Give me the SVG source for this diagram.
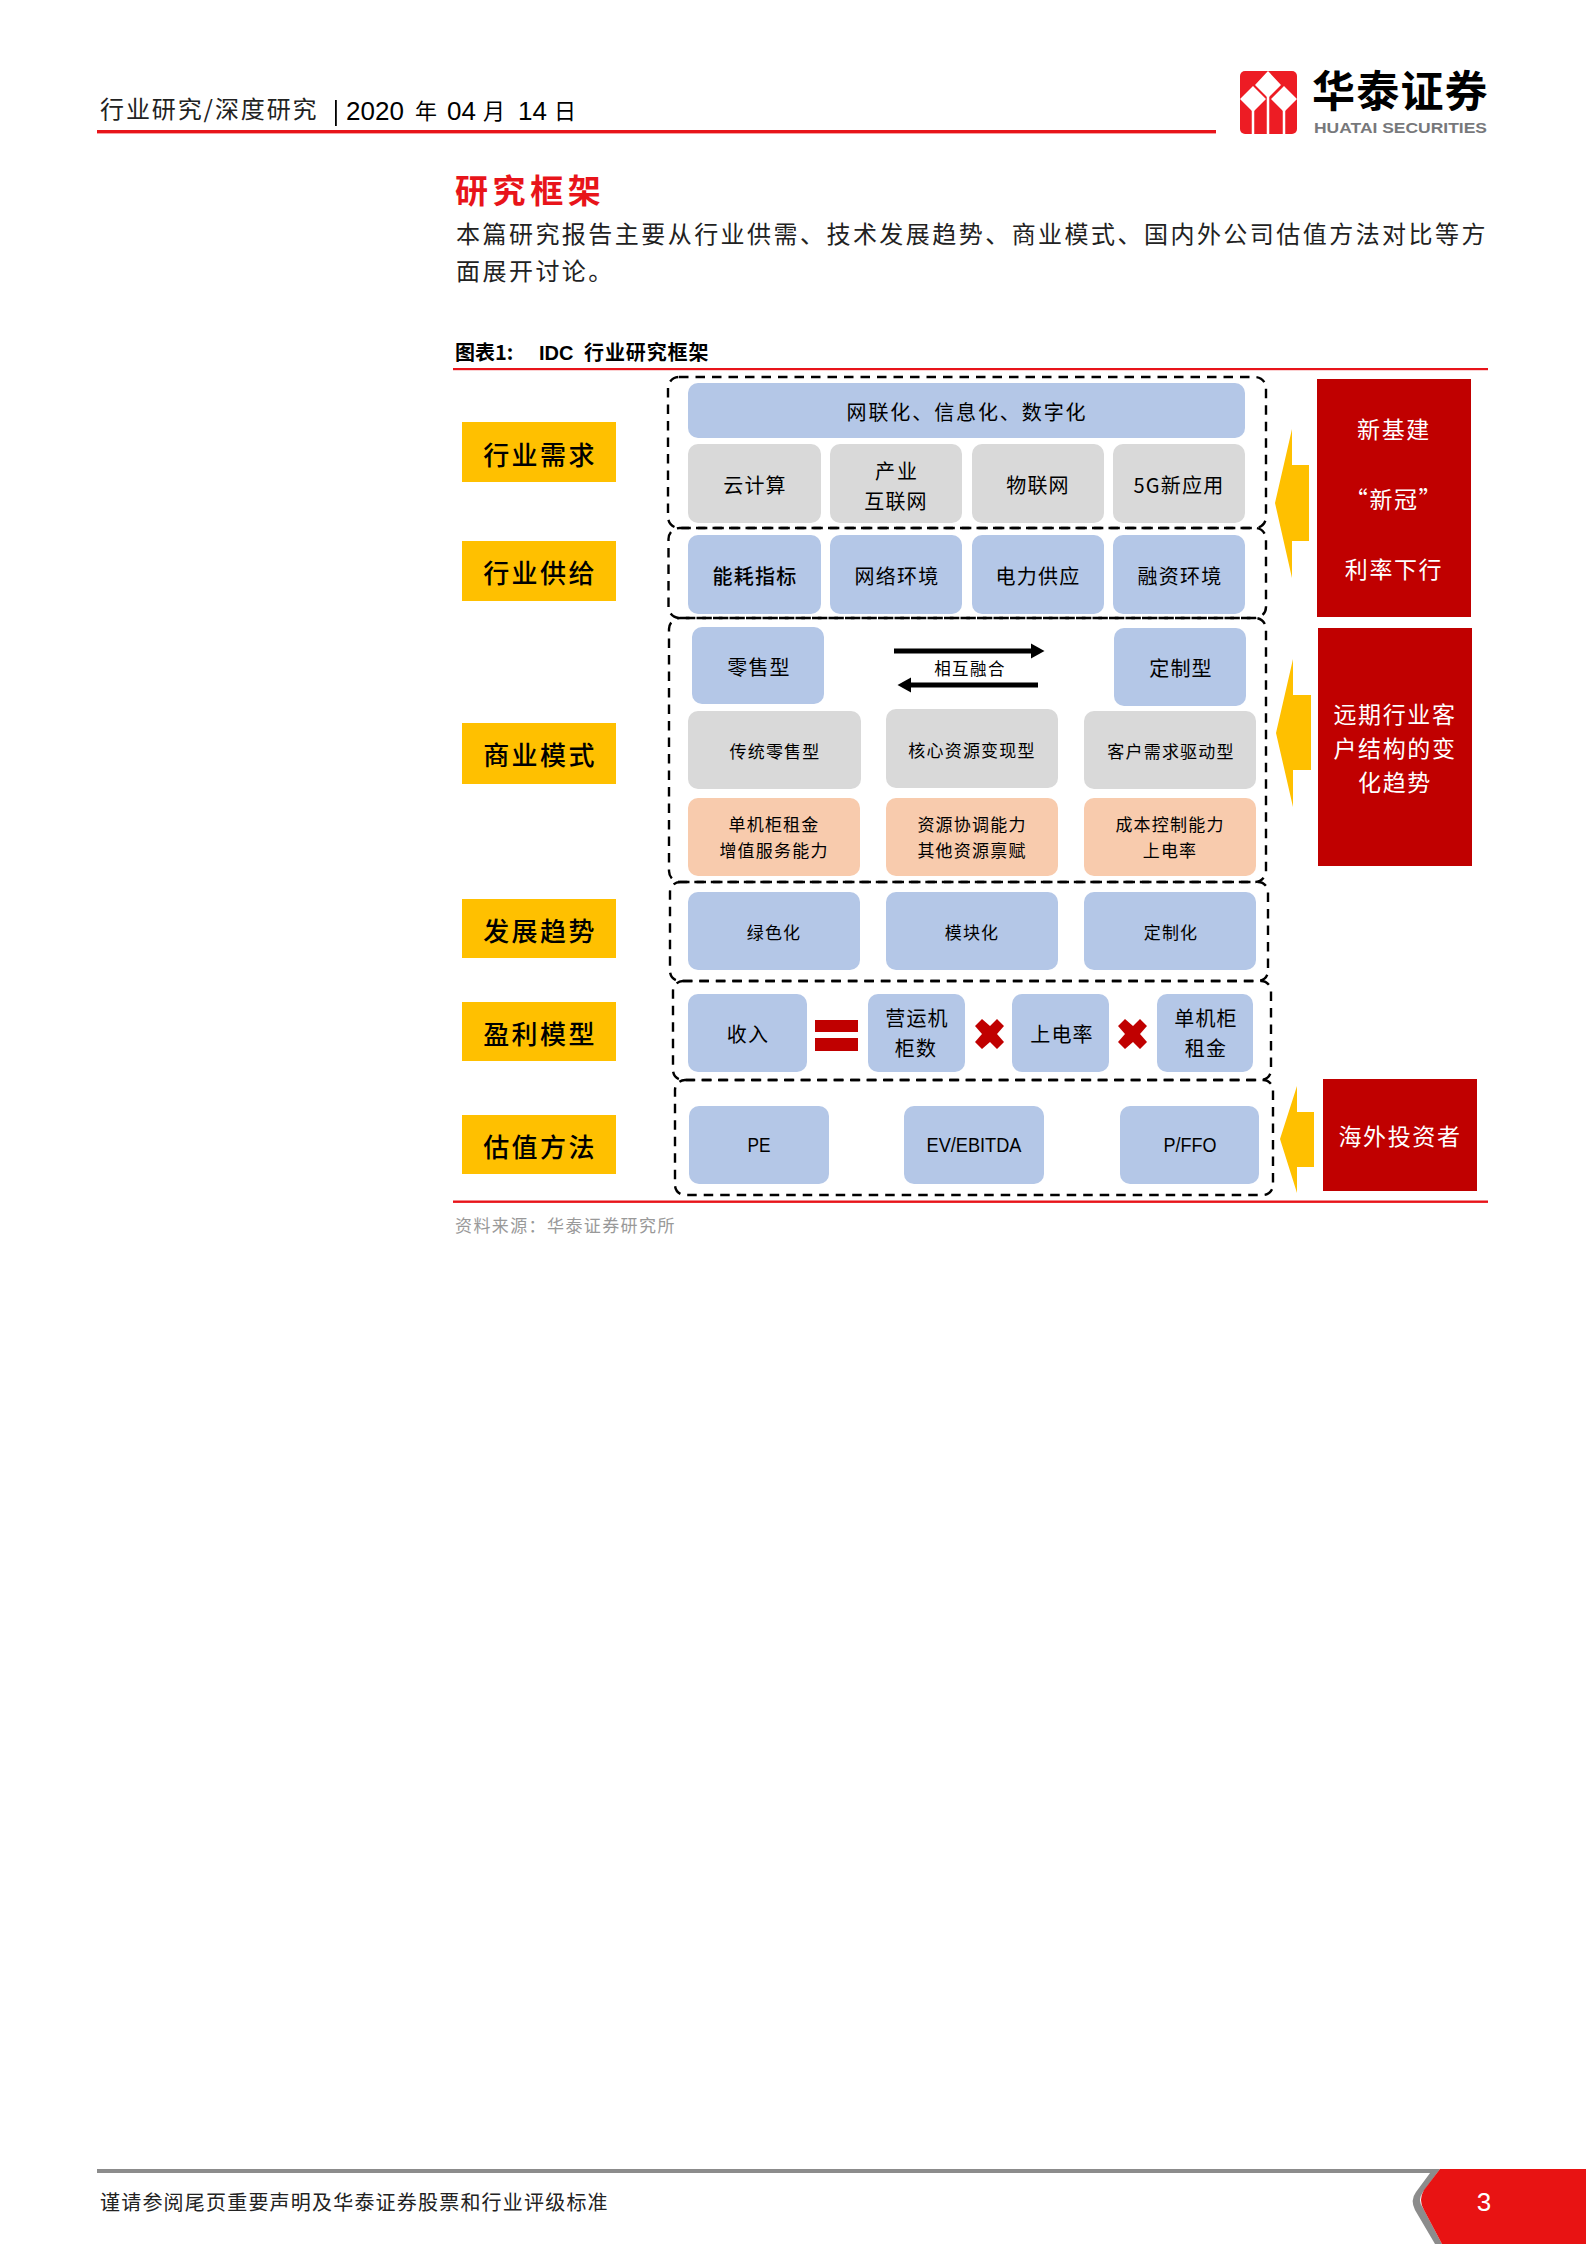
<svg xmlns="http://www.w3.org/2000/svg" width="1586" height="2244" viewBox="0 0 1586 2244">
<style>
text{font-family:"Noto Sans CJK SC","Liberation Sans",sans-serif;text-anchor:middle}
.l{text-anchor:start}
.en{font-family:"Liberation Sans",sans-serif}
.y{fill:#FFC000}.b{fill:#B4C7E7}.g{fill:#D9D9D9}.o{fill:#F8CBAD}.r{fill:#C00000}
.dash{fill:none;stroke:#000;stroke-width:2.4;stroke-dasharray:9.500 7}
.yt{font-size:26px;letter-spacing:2.4px;font-weight:500}
.m{font-size:20px;letter-spacing:1.2px}
.s{font-size:17px;letter-spacing:1.2px}
.w{font-size:23px;letter-spacing:1.6px;fill:#fff}
.arr{fill:#FFC000}
.ar{stroke:#000;stroke-width:5;fill:none}
</style>
<rect width="1586" height="2244" fill="#fff"/>
<g id="page-header">
<text class="l" x="100" y="118" font-size="24" letter-spacing="1.9" fill="#222">行业研究/深度研究</text>
<rect x="335" y="100" width="1.8" height="26" fill="#000"/>
<text class="l en" x="346" y="120" font-size="26">2020</text>
<text class="l" x="415" y="119" font-size="22">年</text>
<text class="l en" x="447" y="120" font-size="26">04</text>
<text class="l" x="483" y="119" font-size="22">月</text>
<text class="l en" x="518" y="120" font-size="26">14</text>
<text class="l" x="554" y="119" font-size="22">日</text>
<rect x="97" y="130" width="1119" height="3.4" fill="#E8141A"/>
</g>
<g id="logo">
<rect x="1240" y="71" width="57" height="63" rx="5" fill="#ED1C24"/>
<path d="M1268 71L1281 85L1268 98L1255 85Z M1253 86L1266 99L1253 112L1240 99Z M1284 86L1297 99L1284 112L1271 99Z" fill="#fff"/>
<path d="M1253 110V134M1268 96V134M1284 110V134" stroke="#fff" stroke-width="2.500" fill="none"/>
<text class="l" x="1312" y="107" font-size="43" font-weight="700" letter-spacing="1.2">华泰证券</text>
<text class="l en" x="1314" y="133" font-size="15.5" font-weight="700" fill="#77787B" textLength="173" lengthAdjust="spacingAndGlyphs">HUATAI SECURITIES</text>
</g>
<g id="heading">
<text class="l" x="455" y="203" font-size="33" font-weight="700" letter-spacing="4.6" fill="#E8141A">研究框架</text>
<text class="l" x="456" y="243" font-size="24" letter-spacing="2.46" fill="#222">本篇研究报告主要从行业供需、技术发展趋势、商业模式、国内外公司估值方法对比等方</text>
<text class="l" x="456" y="280" font-size="24" letter-spacing="2.46" fill="#222">面展开讨论。</text>
<text class="l" x="455" y="360" font-size="20" font-weight="700">图表1:</text>
<text class="l en" x="539" y="360" font-size="20" font-weight="700">IDC</text>
<text class="l" x="584" y="360" font-size="20" font-weight="700" letter-spacing=".9">行业研究框架</text>
<rect x="453" y="368" width="1035" height="2.2" fill="#E8141A"/>
</g>
<g id="connectors">
<path class="ar" d="M894 651H1033"/><path d="M1031 643.500L1044.500 651L1031 658.500Z"/>
<path class="ar" d="M1038 685H909"/><path d="M911 677.500L897.500 685L911 692.500Z"/>
<path class="arr" d="M1275 503L1292 429V465H1309V541H1292V578Z"/>
<path class="arr" d="M1276 733L1293 659V695H1311V770H1293V807Z"/>
<path class="arr" d="M1280 1139L1297 1086V1112H1314V1167H1297V1193Z"/>
</g>
<g id="frames">
<rect class="dash" x="668" y="377" width="598" height="151" rx="11"/>
<rect class="dash" x="668.500" y="528" width="597.500" height="90" rx="11"/>
<rect class="dash" x="669" y="618" width="597" height="264" rx="11"/>
<rect class="dash" x="670" y="882" width="598" height="99" rx="10"/>
<rect class="dash" x="673" y="981" width="598" height="99" rx="10"/>
<rect class="dash" x="675" y="1080" width="598" height="115" rx="10"/>
</g>
<g id="demand">
<rect class="y" x="462" y="422" width="154" height="60"/><text class="yt" x="540" y="465">行业需求</text>
</g>
<g id="supply">
<rect class="y" x="462" y="541" width="154" height="60"/><text class="yt" x="540" y="583">行业供给</text>
</g>
<g id="model">
<rect class="y" x="462" y="723" width="154" height="61"/><text class="yt" x="540" y="765">商业模式</text>
</g>
<g id="trend">
<rect class="y" x="462" y="899" width="154" height="59"/><text class="yt" x="540" y="941">发展趋势</text>
</g>
<g id="profit">
<rect class="y" x="462" y="1002" width="154" height="59"/><text class="yt" x="540" y="1044">盈利模型</text>
</g>
<g id="valuation">
<rect class="y" x="462" y="1115" width="154" height="59"/><text class="yt" x="540" y="1157">估值方法</text>
</g>
<g id="n-digital"><rect class="b" x="688" y="383" width="557" height="55" rx="10"/><text class="m" x="967" y="420" style="letter-spacing:1.9px">网联化、信息化、数字化</text></g>
<g id="n-cloud"><rect class="g" x="688" y="444" width="133" height="79" rx="10"/><text class="m" x="755" y="493">云计算</text></g>
<g id="n-iiot"><rect class="g" x="830" y="444" width="132" height="79" rx="10"/><text class="m" x="897" y="479" style="letter-spacing:2px">产业</text><text class="m" x="896" y="509">互联网</text></g>
<g id="n-iot"><rect class="g" x="972" y="444" width="132" height="79" rx="10"/><text class="m" x="1038" y="493">物联网</text></g>
<g id="n-5g"><rect class="g" x="1113" y="444" width="132" height="79" rx="10"/><text class="m" x="1179" y="493">5G新应用</text></g>
<g id="n-energy"><rect class="b" x="688" y="535" width="133" height="79" rx="10"/><text class="m" x="755" y="584" font-weight="500">能耗指标</text></g>
<g id="n-network"><rect class="b" x="830" y="535" width="132" height="79" rx="10"/><text class="m" x="897" y="584">网络环境</text></g>
<g id="n-power"><rect class="b" x="972" y="535" width="132" height="79" rx="10"/><text class="m" x="1038" y="584">电力供应</text></g>
<g id="n-finance"><rect class="b" x="1113" y="535" width="132" height="79" rx="10"/><text class="m" x="1180" y="584">融资环境</text></g>
<g id="n-retail"><rect class="b" x="692" y="627" width="132" height="77" rx="10"/><text class="m" x="759" y="675">零售型</text></g>
<g id="n-merge"><text x="970" y="675" font-size="16.500" letter-spacing="1.4">相互融合</text></g>
<g id="n-custom"><rect class="b" x="1114" y="628" width="132" height="78" rx="10"/><text class="m" x="1181" y="676">定制型</text></g>
<g id="n-trad"><rect class="g" x="688" y="711" width="173" height="78" rx="10"/><text class="s" x="775" y="758">传统零售型</text></g>
<g id="n-core"><rect class="g" x="886" y="709" width="172" height="79" rx="10"/><text class="s" x="972" y="757">核心资源变现型</text></g>
<g id="n-demand"><rect class="g" x="1084" y="711" width="172" height="78" rx="10"/><text class="s" x="1171" y="758">客户需求驱动型</text></g>
<g id="n-rent"><rect class="o" x="688" y="798" width="172" height="78" rx="10"/><text class="s" x="774" y="831">单机柜租金</text><text class="s" x="774" y="857">增值服务能力</text></g>
<g id="n-resource"><rect class="o" x="886" y="798" width="172" height="78" rx="10"/><text class="s" x="972" y="831">资源协调能力</text><text class="s" x="972" y="857">其他资源禀赋</text></g>
<g id="n-cost"><rect class="o" x="1084" y="798" width="172" height="78" rx="10"/><text class="s" x="1170" y="831">成本控制能力</text><text class="s" x="1170" y="857">上电率</text></g>
<g id="n-green"><rect class="b" x="688" y="892" width="172" height="78" rx="10"/><text class="s" x="774" y="939">绿色化</text></g>
<g id="n-module"><rect class="b" x="886" y="892" width="172" height="78" rx="10"/><text class="s" x="972" y="939">模块化</text></g>
<g id="n-tailor"><rect class="b" x="1084" y="892" width="172" height="78" rx="10"/><text class="s" x="1171" y="939">定制化</text></g>
<g id="n-income"><rect class="b" x="688" y="994" width="119" height="78" rx="10"/><text class="m" x="748" y="1042">收入</text></g>
<g id="n-equal"><rect class="r" x="815" y="1020" width="43" height="12"/><rect class="r" x="815" y="1038" width="43" height="13"/></g>
<g id="n-racks"><rect class="b" x="868" y="994" width="97" height="78" rx="10"/><text class="m" x="917" y="1026">营运机</text><text class="m" x="916" y="1056">柜数</text></g>
<g id="n-times1"><path class="r" d="M975 1026L982 1019L990 1026L997 1019L1004 1026L997 1034L1004 1042L997 1049L990 1042L982 1049L975 1042L982 1034Z"/></g>
<g id="n-rate"><rect class="b" x="1012" y="994" width="97" height="78" rx="10"/><text class="m" x="1062" y="1042">上电率</text></g>
<g id="n-times2"><path class="r" d="M1118 1026L1125 1019L1133 1026L1140 1019L1147 1026L1140 1034L1147 1042L1140 1049L1133 1042L1125 1049L1118 1042L1125 1034Z"/></g>
<g id="n-cabinet"><rect class="b" x="1157" y="994" width="96" height="78" rx="10"/><text class="m" x="1206" y="1026">单机柜</text><text class="m" x="1206" y="1056">租金</text></g>
<g id="n-pe"><rect class="b" x="689" y="1106" width="140" height="78" rx="10"/><text class="en" x="759" y="1152" font-size="20" textLength="23" lengthAdjust="spacingAndGlyphs">PE</text></g>
<g id="n-ev"><rect class="b" x="904" y="1106" width="140" height="78" rx="10"/><text class="en" x="974" y="1152" font-size="20" textLength="95" lengthAdjust="spacingAndGlyphs">EV/EBITDA</text></g>
<g id="n-ffo"><rect class="b" x="1120" y="1106" width="139" height="78" rx="10"/><text class="en" x="1190" y="1152" font-size="20" textLength="53" lengthAdjust="spacingAndGlyphs">P/FFO</text></g>
<g id="r-policy"><rect class="r" x="1317" y="379" width="154" height="238"/><text class="w" x="1394" y="438">新基建</text><text class="w" x="1394" y="508">“新冠”</text><text class="w" x="1394" y="578">利率下行</text></g>
<g id="r-customer"><rect class="r" x="1318" y="628" width="154" height="238"/><text class="w" x="1395" y="723">远期行业客</text><text class="w" x="1395" y="757">户结构的变</text><text class="w" x="1395" y="791">化趋势</text></g>
<g id="r-overseas"><rect class="r" x="1323" y="1079" width="154" height="112"/><text class="w" x="1400" y="1145">海外投资者</text></g>
<g id="source">
<rect x="453" y="1200.500" width="1035" height="2.400" fill="#E8141A"/>
<text class="l" x="455" y="1232" font-size="17" letter-spacing="1.4" fill="#999">资料来源&#xFF1A;华泰证券研究所</text>
</g>
<g id="page-footer">
<rect x="97" y="2169" width="1340" height="4" fill="#8C8C8C"/>
<path d="M1433 2169L1416 2192Q1410 2200 1415 2210L1435 2244H1442L1423 2208Q1417 2200 1423 2192L1440 2169Z" fill="#8C8C8C"/>
<path d="M1440 2169L1424 2190Q1418 2200 1424 2210L1442 2244H1586V2169Z" fill="#E81313"/>
<text x="1484" y="2211" font-size="26" class="en" fill="#fff">3</text>
<text class="l" x="100" y="2210" font-size="20" letter-spacing="1.2" fill="#222">谨请参阅尾页重要声明及华泰证券股票和行业评级标准</text>
</g>
</svg>
